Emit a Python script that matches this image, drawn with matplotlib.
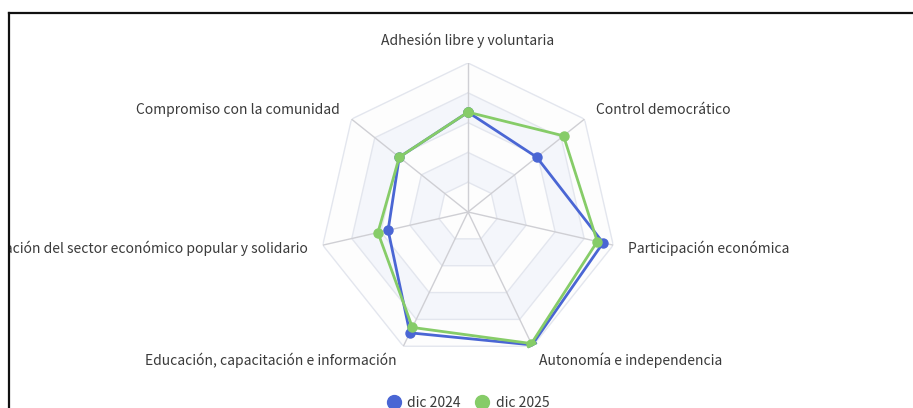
import numpy as np
import matplotlib.pyplot as plt
from matplotlib.lines import Line2D
from matplotlib.transforms import Bbox

plt.rcParams['font.family'] = ['Noto Sans CJK SC', 'DejaVu Sans']

indicators = ['Adhesión libre y voluntaria', 'Control democrático', 'Participación económica',
              'Autonomía e independencia', 'Educación, capacitación e información',
              'Integración del sector económico popular y solidario', 'Compromiso con la comunidad']
dic_2024 = [67, 59, 93, 99, 90, 55, 59]
dic_2025 = [67, 82, 89, 98, 86, 62, 59]
series_names = ['dic 2024', 'dic 2025']
max_value = 100
n_splits = 5

blue = '#4a66d4'
green = '#86cc68'

W, H = 913, 408
fig = plt.figure(figsize=(W / 100, H / 100), dpi=100)
fig.patch.set_facecolor('white')

# radar sits at centre (468, 212) px, radius 149 px
cx, cy, R = 468, 212, 149
ax = fig.add_axes([(cx - R) / W, (H - cy - R) / H, 2 * R / W, 2 * R / H], projection='polar')
ax.set_theta_zero_location('N')
ax.set_theta_direction(-1)
ax.set_ylim(0, max_value)
ax.grid(False)
ax.set_xticks([])
ax.set_yticks([])
ax.spines['polar'].set_visible(False)
ax.patch.set_alpha(0)

n = len(indicators)
angles = np.linspace(0, 2 * np.pi, n, endpoint=False)
closed = np.append(angles, angles[0])

# split areas and split lines
ring_colors = ['#fdfdfd', '#f4f6fb']
for i in range(n_splits, 0, -1):
    r = max_value * i / n_splits
    ax.fill(closed, [r] * (n + 1), color=ring_colors[(i - 1) % 2], zorder=1, lw=0)
for i in range(1, n_splits + 1):
    r = max_value * i / n_splits
    ax.plot(closed, [r] * (n + 1), color='#e3e6ee', lw=1, zorder=2)
for a in angles:
    ax.plot([a, a], [0, max_value], color='#cfcfd4', lw=1, zorder=2)

# series
for vals, col, name in [(dic_2024, blue, series_names[0]), (dic_2025, green, series_names[1])]:
    v = np.append(vals, vals[0])
    ax.plot(closed, v, color=col, lw=2, marker='o', markersize=6.5, zorder=4, label=name)

# indicator names
clip = Bbox.from_extents(10, 0, W, H - 13)
gap = 15
for a, name in zip(angles, indicators):
    s, c = np.sin(a), np.cos(a)
    if abs(s) < 0.01:
        ha, va = 'center', 'bottom' if c > 0 else 'top'
    else:
        ha, va = ('left' if s > 0 else 'right'), 'center'
    t = ax.annotate(name, xy=(a, max_value), xytext=(gap * s, gap * c),
                    textcoords='offset pixels', ha=ha, va=va, fontsize=10,
                    color='#3a3a3a', annotation_clip=False)
    t.set_clip_on(True)
    t.set_clip_box(clip)

# legend at the bottom (partly cut off, as in the screenshot)
handles = [Line2D([], [], color=blue, marker='o', ls='none', markersize=10),
           Line2D([], [], color=green, marker='o', ls='none', markersize=10)]
fig.legend(handles, series_names, loc='center', bbox_to_anchor=(468 / W, 5 / H),
           ncol=2, frameon=False, fontsize=10, handletextpad=0.5, columnspacing=1.0,
           handlelength=1.0, labelcolor='#3a3a3a')

# black frame of the screenshot
fig.add_artist(Line2D([9 / W, 9 / W], [0, 1 - 12.5 / H], color='#111111', lw=1.6))
fig.add_artist(Line2D([9 / W, 1], [1 - 12.5 / H, 1 - 12.5 / H], color='#111111', lw=1.6))

fig.savefig('out.png', dpi=100)
